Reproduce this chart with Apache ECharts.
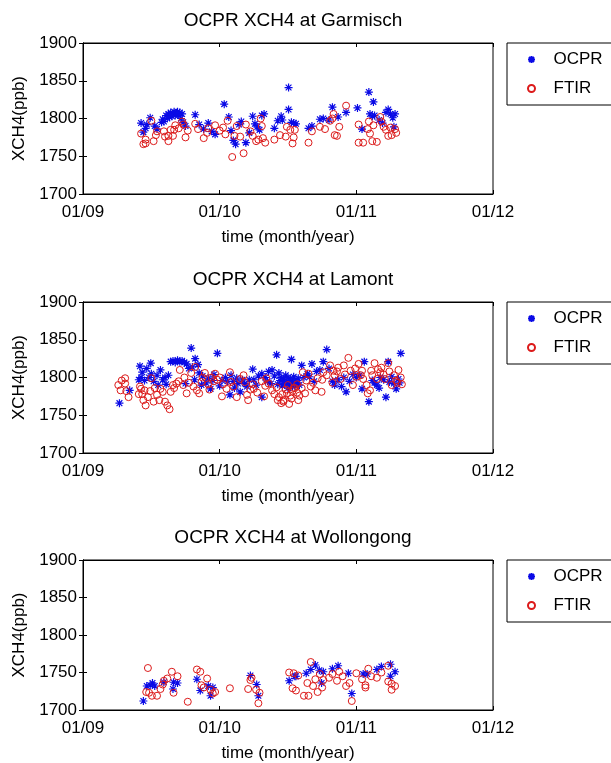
<!DOCTYPE html>
<html>
<head>
    <meta http-equiv="Content-Type" content="text/html; charset=utf-8" />
    <title>OCPR XCH4</title>
    <script src="https://cdn.jsdelivr.net/npm/echarts@6/dist/echarts.min.js"></script>
</head>
<body style="margin:0;padding:0;background:#ffffff;">
    <div id="main" style="width:611px;height:763px;"></div>
    <script type="text/javascript">
        // sites, tick labels; x values are months since Jan 2009
        var siteNames = ['Garmisch', 'Lamont', 'Wollongong'];
        var xTickLabels = ['01/09', '01/10', '01/11', '01/12'];
        var seriesNames = ['OCPR', 'FTIR'];

        var garmischOcpr = [[5.1,1794],[5.3,1782],[5.5,1787],[5.6,1792],[5.9,1801],[6.3,1790],[6.5,1786],[6.9,1795],[7.0,1799],[7.1,1796],[7.3,1804],[7.4,1800],[7.5,1806],[7.6,1802],[7.7,1808],[7.8,1803],[7.9,1806],[8.0,1809],[8.1,1804],[8.2,1807],[8.3,1809],[8.4,1805],[8.5,1808],[8.6,1800],[8.7,1806],[8.8,1795],[9.0,1790],[9.85,1805],[10.2,1792],[10.6,1786],[11.0,1794],[11.3,1783],[11.6,1779],[12.4,1819],[12.8,1802],[13.0,1784],[13.2,1771],[13.4,1766],[13.7,1792],[13.9,1796],[14.3,1768],[14.6,1781],[14.9,1803],[15.1,1793],[15.3,1789],[15.5,1785],[15.7,1804],[15.9,1806],[16.8,1787],[17.1,1797],[17.4,1803],[17.5,1798],[18.05,1841],[18.05,1812],[18.3,1795],[18.5,1794],[18.7,1793],[19.8,1787],[20.1,1790],[20.8,1799],[21.1,1800],[21.6,1798],[21.9,1815],[22.4,1802],[23.1,1808],[24.1,1814],[24.5,1786],[25.1,1835],[25.5,1822],[25.2,1806],[25.4,1803],[25.6,1804],[26.0,1798],[26.3,1794],[26.8,1812],[27.0,1806],[27.3,1789],[27.4,1806],[27.2,1801],[26.6,1808]];
        var garmischFtir = [[5.1,1780],[5.3,1766],[5.5,1772],[5.5,1767],[6.0,1797],[6.2,1770],[6.4,1778],[6.5,1783],[7.1,1783],[7.2,1776],[7.5,1770],[7.5,1777],[7.7,1785],[7.9,1777],[8.1,1791],[8.0,1785],[8.4,1787],[8.7,1796],[8.8,1792],[9.0,1775],[9.2,1784],[9.85,1793],[10.1,1786],[10.6,1774],[10.9,1781],[11.0,1787],[11.6,1791],[12.0,1784],[12.3,1788],[12.7,1797],[12.5,1779],[13.1,1749],[13.3,1777],[13.5,1790],[13.8,1776],[14.1,1754],[14.3,1792],[14.7,1783],[14.9,1777],[15.2,1770],[15.4,1772],[15.6,1800],[15.7,1790],[15.8,1774],[16.0,1768],[16.8,1772],[17.3,1778],[17.8,1776],[17.9,1789],[18.2,1785],[18.4,1767],[18.5,1775],[18.6,1785],[19.8,1768],[20.1,1783],[20.8,1789],[21.25,1786],[21.7,1797],[21.9,1800],[22.0,1806],[22.1,1778],[22.3,1777],[22.5,1789],[23.1,1817],[24.2,1792],[24.2,1768],[24.6,1768],[25.0,1786],[25.1,1796],[25.2,1780],[25.4,1770],[25.5,1791],[25.8,1769],[26.1,1802],[26.2,1796],[26.4,1789],[26.6,1785],[26.8,1777],[27.0,1788],[27.1,1778],[27.4,1786],[27.5,1781]];

        var lamontOcpr = [[3.2,1766],[4.1,1783],[4.9,1797],[5.0,1815],[5.1,1800],[5.2,1807],[5.4,1796],[5.6,1812],[5.8,1800],[5.95,1819],[6.0,1805],[6.2,1795],[6.5,1803],[6.6,1790],[6.8,1810],[7.0,1797],[7.2,1800],[7.3,1791],[7.5,1803],[7.7,1821],[7.9,1822],[8.1,1820],[8.3,1823],[8.5,1821],[8.7,1822],[8.9,1820],[9.0,1792],[9.1,1818],[9.3,1812],[9.5,1839],[9.6,1814],[9.8,1797],[9.85,1825],[10.1,1817],[10.2,1806],[10.4,1790],[10.5,1802],[10.8,1793],[11.0,1799],[11.2,1785],[11.4,1796],[11.5,1804],[11.8,1832],[12.0,1789],[12.2,1796],[12.5,1800],[12.7,1795],[12.9,1777],[13.0,1803],[13.2,1795],[13.3,1786],[13.5,1799],[13.6,1792],[13.8,1781],[14.0,1797],[14.2,1792],[14.4,1788],[14.6,1797],[14.9,1811],[15.0,1797],[15.2,1790],[15.4,1802],[15.7,1805],[15.7,1774],[16.0,1800],[16.2,1795],[16.3,1808],[16.5,1792],[16.6,1810],[16.8,1802],[17.0,1830],[17.1,1791],[17.2,1806],[17.3,1796],[17.4,1800],[17.5,1789],[17.6,1797],[17.7,1792],[17.8,1803],[17.9,1795],[18.0,1800],[18.0,1786],[18.1,1791],[18.2,1798],[18.3,1824],[18.4,1794],[18.4,1788],[18.5,1801],[18.6,1789],[18.7,1797],[18.8,1793],[18.9,1799],[19.0,1790],[19.2,1816],[19.4,1800],[19.7,1805],[19.9,1801],[20.1,1818],[20.3,1795],[20.5,1808],[20.8,1810],[21.1,1821],[21.4,1837],[21.6,1812],[21.9,1795],[22.1,1790],[22.4,1797],[22.7,1788],[22.9,1800],[23.1,1781],[23.4,1795],[23.7,1804],[24.0,1800],[24.3,1803],[24.5,1785],[24.7,1821],[25.1,1768],[25.4,1796],[25.6,1793],[25.8,1790],[26.0,1786],[26.1,1800],[26.4,1797],[26.6,1774],[26.8,1821],[26.9,1794],[27.1,1801],[27.3,1792],[27.5,1785],[27.7,1798],[27.9,1832],[27.8,1793]];
        var lamontFtir = [[3.1,1790],[3.3,1783],[3.4,1796],[3.7,1799],[3.7,1792],[3.8,1782],[4.0,1774],[4.9,1778],[5.0,1788],[5.1,1785],[5.2,1778],[5.3,1770],[5.4,1783],[5.5,1763],[5.7,1774],[5.9,1782],[6.0,1799],[6.2,1768],[6.3,1786],[6.5,1777],[6.7,1770],[6.8,1785],[7.0,1781],[7.2,1768],[7.4,1763],[7.6,1758],[7.7,1781],[7.9,1790],[8.0,1786],[8.2,1792],[8.4,1795],[8.5,1810],[8.8,1790],[8.9,1800],[9.1,1779],[9.3,1793],[9.5,1806],[9.7,1788],[9.85,1814],[10.0,1783],[10.2,1779],[10.4,1794],[10.5,1800],[10.7,1806],[11.0,1791],[11.1,1784],[11.3,1800],[11.5,1795],[11.6,1805],[11.8,1797],[12.0,1800],[12.2,1775],[12.3,1791],[12.6,1785],[12.9,1807],[13.0,1794],[13.2,1788],[13.5,1774],[13.8,1798],[14.1,1803],[14.2,1794],[14.4,1777],[14.5,1770],[14.7,1784],[14.9,1791],[15.0,1785],[15.3,1780],[15.7,1795],[15.9,1775],[16.0,1789],[16.1,1799],[16.3,1792],[16.6,1783],[16.8,1778],[17.0,1787],[17.1,1770],[17.2,1774],[17.4,1766],[17.5,1778],[17.6,1770],[17.6,1768],[17.8,1784],[17.9,1779],[18.0,1790],[18.1,1765],[18.2,1776],[18.3,1772],[18.4,1782],[18.5,1786],[18.6,1786],[18.8,1780],[18.8,1791],[18.9,1770],[19.0,1776],[19.2,1786],[19.3,1807],[19.5,1779],[19.6,1796],[19.8,1805],[20.0,1788],[20.2,1793],[20.4,1783],[20.6,1799],[20.95,1781],[21.0,1797],[21.1,1807],[21.4,1803],[21.7,1816],[21.9,1793],[22.0,1809],[22.1,1803],[22.3,1808],[22.4,1813],[22.6,1798],[22.9,1816],[23.0,1804],[23.3,1826],[23.5,1809],[23.7,1790],[23.9,1812],[24.0,1801],[24.2,1818],[24.4,1803],[24.5,1809],[24.6,1798],[24.9,1790],[25.0,1779],[25.2,1783],[25.3,1809],[25.4,1803],[25.6,1819],[25.8,1798],[25.9,1811],[26.1,1807],[26.2,1813],[26.4,1804],[26.5,1798],[26.8,1819],[26.9,1808],[27.1,1790],[27.3,1803],[27.5,1796],[27.6,1793],[27.7,1810],[27.9,1800],[28.0,1791]];

        var wollongongOcpr = [[5.3,1712],[5.6,1732],[5.9,1733],[6.1,1736],[6.3,1732],[7.1,1737],[7.9,1728],[7.95,1737],[8.3,1736],[10.0,1741],[10.3,1726],[11.0,1732],[11.2,1719],[11.4,1730],[14.7,1746],[15.25,1734],[15.4,1719],[18.1,1739],[18.6,1745],[18.7,1745],[19.6,1749],[20.0,1754],[20.4,1760],[20.75,1753],[21.1,1751],[20.95,1736],[21.9,1755],[22.4,1759],[23.3,1749],[23.6,1722],[24.6,1748],[24.95,1748],[25.8,1754],[26.2,1758],[27.0,1761],[27.0,1745],[27.4,1751]];
        var wollongongFtir = [[5.55,1724],[5.7,1756],[5.8,1723],[6.05,1719],[6.5,1719],[6.8,1728],[7.0,1734],[7.1,1739],[7.4,1742],[7.8,1751],[7.95,1723],[8.3,1745],[9.2,1711],[10.0,1754],[10.3,1751],[10.4,1733],[10.6,1730],[10.9,1742],[11.2,1727],[11.4,1722],[11.6,1724],[12.9,1729],[14.5,1728],[14.7,1740],[14.8,1743],[15.2,1727],[15.4,1709],[15.5,1723],[18.1,1750],[18.5,1749],[18.4,1729],[18.7,1726],[18.9,1746],[19.4,1719],[19.8,1719],[20.0,1764],[19.7,1736],[20.2,1732],[20.4,1741],[20.6,1724],[20.8,1748],[21.1,1740],[21.0,1730],[21.6,1743],[21.9,1748],[22.3,1739],[22.5,1751],[22.8,1745],[23.1,1732],[23.4,1736],[23.6,1712],[24.0,1749],[24.5,1741],[24.8,1733],[24.8,1730],[25.05,1755],[25.3,1745],[25.8,1743],[26.2,1750],[26.8,1759],[26.8,1738],[27.1,1727],[27.4,1732],[27.1,1735]];

        var ocprData = [garmischOcpr, lamontOcpr, wollongongOcpr];
        var ftirData = [garmischFtir, lamontFtir, wollongongFtir];

        /*************************************************************
        * layout
        *************************************************************/
        var FONT = 'Liberation Sans';
        var gridTops = [43, 302, 560];
        var gridLeft = 83, gridWidth = 410, gridHeight = 151;
        var starPath = 'path://M0,-5L0,5M-5,0L5,0M-3.6,-3.6L3.6,3.6M-3.6,3.6L3.6,-3.6';
        var blue = '#0a0ae6', red = '#dc1a1a';

        var chart = echarts.init(document.getElementById('main'));
        var option = {
            backgroundColor: '#ffffff',
            animation: false,
            title: [], grid: [], xAxis: [], yAxis: [], legend: [], series: []
        };

        for (var i = 0; i < 3; i++) {
            var gTop = gridTops[i];
            option.title.push({
                text: 'OCPR XCH4 at ' + siteNames[i],
                left: gridLeft + gridWidth / 2,
                textAlign: 'center',
                top: gTop - 37,
                textStyle: { fontFamily: FONT, fontSize: 19, fontWeight: 'normal', color: '#000' }
            });
            option.grid.push({
                left: gridLeft, top: gTop, width: gridWidth, height: gridHeight,
                show: true, borderColor: '#000', borderWidth: 1, backgroundColor: '#fff'
            });
            // bottom x axis with labels
            option.xAxis.push({
                gridIndex: i, type: 'value', min: 0, max: 36, interval: 12,
                name: 'time (month/year)', nameLocation: 'middle', nameGap: 35,
                nameTextStyle: { fontFamily: FONT, fontSize: 17, color: '#000' },
                splitLine: { show: false },
                axisLine: { lineStyle: { color: '#000', width: 1 } },
                axisTick: { inside: true, length: 4, lineStyle: { color: '#000' } },
                axisLabel: {
                    margin: 10, fontFamily: FONT, fontSize: 17, color: '#000',
                    formatter: function (v) { return xTickLabels[Math.round(v / 12)]; }
                }
            });
            // top x axis, ticks only
            option.xAxis.push({
                gridIndex: i, type: 'value', min: 0, max: 36, interval: 12, position: 'top',
                splitLine: { show: false },
                axisLine: { lineStyle: { color: '#000', width: 1 } },
                axisTick: { inside: true, length: 4, lineStyle: { color: '#000' } },
                axisLabel: { show: false }
            });
            option.yAxis.push({
                gridIndex: i, type: 'value', min: 1700, max: 1900, interval: 50,
                name: 'XCH4(ppb)', nameLocation: 'middle', nameGap: 49,
                nameTextStyle: { fontFamily: FONT, fontSize: 17, color: '#000' },
                splitLine: { show: false },
                axisLine: { show: true, lineStyle: { color: '#000', width: 1 } },
                axisTick: { show: true, inside: true, length: 4, lineStyle: { color: '#000' } },
                axisLabel: {
                    margin: 6, fontFamily: FONT, fontSize: 17, color: '#000',
                    formatter: function (v) { return String(v); }
                }
            });
            option.yAxis.push({
                gridIndex: i, type: 'value', min: 1700, max: 1900, interval: 50, position: 'right',
                splitLine: { show: false },
                axisLine: { show: true, lineStyle: { color: '#000', width: 1 } },
                axisTick: { show: true, inside: true, length: 4, lineStyle: { color: '#000' } },
                axisLabel: { show: false }
            });
            option.legend.push({
                orient: 'vertical', left: 507, top: gTop,
                padding: [8, 40, 8, 20], itemGap: 12,
                itemWidth: 34, itemHeight: 7,
                borderColor: '#000', borderWidth: 1, backgroundColor: '#fff',
                textStyle: { fontFamily: FONT, fontSize: 17, color: '#000' },
                data: [{ name: 'OCPR', icon: starPath }, { name: 'FTIR', icon: 'circle' }]
            });
            option.series.push({
                name: seriesNames[0], type: 'scatter', xAxisIndex: 2 * i, yAxisIndex: 2 * i,
                symbol: starPath, symbolSize: 8, symbolKeepAspect: true,
                itemStyle: { color: blue, borderColor: blue, borderWidth: 1.2, opacity: 1 },
                data: ocprData[i]
            });
            option.series.push({
                name: seriesNames[1], type: 'scatter', xAxisIndex: 2 * i, yAxisIndex: 2 * i,
                symbol: 'circle', symbolSize: 7,
                itemStyle: { color: 'rgba(0,0,0,0)', borderColor: red, borderWidth: 1, opacity: 1 },
                data: ftirData[i]
            });
        }

        chart.setOption(option);
    </script>
</body>
</html>
